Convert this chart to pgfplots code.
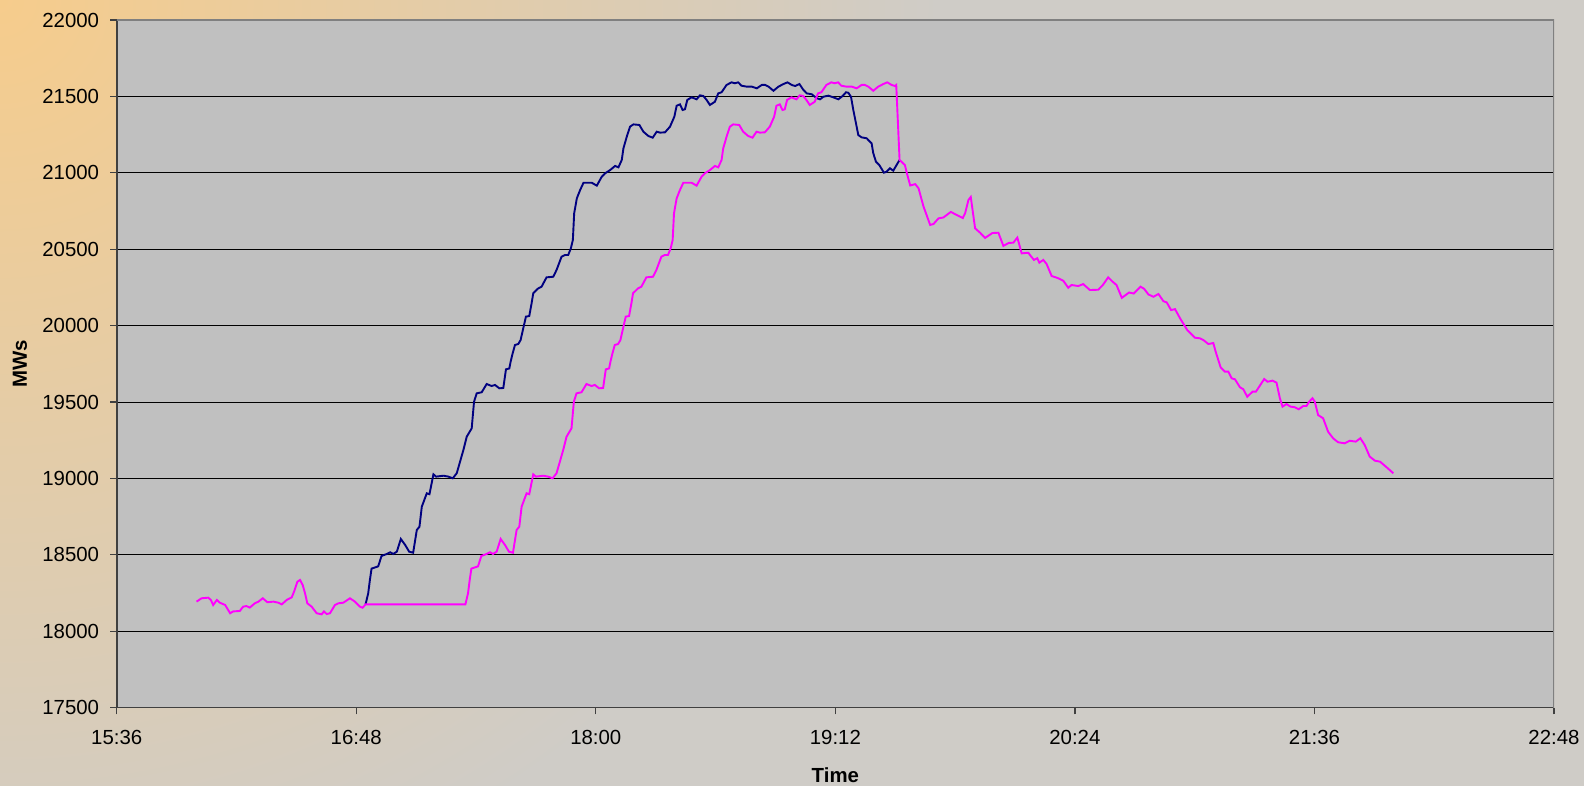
\documentclass[border=0pt]{standalone}
\usepackage{pgfplots}
\pgfplotsset{compat=1.18}
\usepackage{fontspec}
\setmainfont{Liberation Sans}
\definecolor{bgor}{RGB}{246,204,140}
\definecolor{bggr}{RGB}{207,204,199}
\definecolor{plotbg}{RGB}{192,192,192}
\definecolor{navyline}{RGB}{0,0,128}
\definecolor{magline}{RGB}{255,0,255}
\begin{document}
\begin{tikzpicture}[x=1pt,y=1pt]
\begin{scope}
\clip (0,0) rectangle (792,393);
\fill[bggr] (0,0) rectangle (792,393);
\shade[inner color=bgor, outer color=bggr] (0,393) circle (470);
\end{scope}
\begin{axis}[
  at={(58.35pt,39.15pt)}, anchor=south west,
  scale only axis, width=718.65pt, height=343.85pt,
  xmin=936, xmax=1368, ymin=17500, ymax=22000,
  xtick={936,1008,1080,1152,1224,1296,1368},
  xticklabels={15:36,16:48,18:00,19:12,20:24,21:36,22:48},
  ytick={17500,18000,18500,19000,19500,20000,20500,21000,21500,22000},
  yticklabels={17500,18000,18500,19000,19500,20000,20500,21000,21500,22000},
  axis background/.style={fill=plotbg},
  ymajorgrids, grid style={black, line width=0.55pt},
  axis lines*=left,
  axis line style={black!75, line width=0.8pt},
  tick align=outside, major tick length=3.3pt,
  tick style={black!75, line width=0.6pt},
  ticklabel style={font=\fontsize{10.2}{12}\selectfont, inner sep=1pt},
  xticklabel style={yshift=-7pt},
  yticklabel style={xshift=-4.3pt},
  xlabel={\textbf{Time}}, ylabel={\textbf{MWs}},
  label style={font=\fontsize{10.2}{12}\selectfont},
  xlabel style={at={(axis description cs:0.5,-0.0979)}, anchor=center},
  ylabel style={at={(axis description cs:-0.0673,0.5)}, anchor=center},
  clip=true,
]
\draw[gray, line width=0.8pt] (rel axis cs:0,1) -- (rel axis cs:1,1) -- (rel axis cs:1,0);
% Blue (actual)
\addplot[navyline, line width=0.95pt] coordinates {
(1010.8,18176) (1011.6,18249) (1012.1,18336) (1012.6,18410) (1014.6,18425)
(1015.6,18493) (1017.2,18506) (1018.2,18517) (1019.1,18506) (1020.2,18521)
(1021.4,18604) (1022.7,18565) (1023.9,18521) (1025.1,18514) (1026.2,18663)
(1027,18684) (1027.7,18815) (1029.2,18903) (1030,18897) (1031.2,19027)
(1032,19012) (1034.2,19018) (1035.7,19012) (1037,19001) (1038.2,19034)
(1039.2,19110) (1040.2,19186) (1041.2,19273) (1042.7,19328) (1043.4,19502)
(1044.2,19557) (1045.7,19564) (1047.2,19618) (1048.7,19605) (1049.7,19612)
(1051,19590) (1052.2,19592) (1053,19714) (1054,19720) (1054.4,19764)
(1055,19818) (1055.7,19873) (1056.7,19880) (1057.4,19906) (1058.2,19983)
(1059,20059) (1060,20063) (1060.7,20146) (1061.2,20212) (1062.7,20244)
(1063.7,20255) (1065.2,20316) (1067.2,20320) (1068.2,20364) (1069.7,20451)
(1070.7,20462) (1071.7,20462) (1072.5,20506) (1073.1,20560) (1073.5,20735)
(1074.3,20833) (1075.3,20888) (1076.3,20935) (1078.8,20935) (1080.3,20916)
(1081.8,20975) (1082.8,20997) (1084.3,21018) (1085.8,21045) (1086.8,21036)
(1087.8,21084) (1088.3,21160) (1089.3,21236) (1090.3,21302) (1091.3,21317)
(1093.1,21313) (1094.3,21269) (1095.8,21241) (1097.1,21230) (1098.3,21269)
(1099.3,21263) (1100.8,21265) (1102.3,21302) (1103.6,21367) (1104.3,21439)
(1105.3,21448) (1106.1,21411) (1106.8,21416) (1107.5,21477) (1108.8,21494)
(1110.3,21481) (1111.3,21507) (1112.3,21503) (1113.3,21477) (1114.3,21444)
(1115.8,21465) (1116.8,21520) (1117.8,21527) (1119.3,21575) (1120.8,21592)
(1121.8,21586) (1122.8,21592) (1123.8,21570) (1125.3,21564) (1126.9,21564)
(1128.4,21553) (1129.9,21575) (1130.9,21575) (1131.9,21564) (1133.4,21537)
(1134.9,21564) (1136.4,21581) (1137.6,21592) (1138.9,21575) (1139.9,21568)
(1141.2,21581) (1142.4,21542) (1143.4,21520) (1144.9,21514) (1146.4,21488)
(1147.4,21481) (1148.4,21498) (1149.9,21505) (1151.4,21494) (1152.9,21481)
(1154.2,21503) (1155.2,21527) (1155.9,21524) (1156.7,21498) (1157.4,21411)
(1158.2,21324) (1158.9,21247) (1159.9,21232) (1161.4,21226) (1162.9,21193)
(1163.4,21128) (1164.2,21073) (1165.2,21051) (1166.6,21001) (1167.4,21007)
(1168.4,21030) (1169.4,21014) (1170.4,21051) (1171.3,21084)
};
% Magenta
\addplot[magline, line width=0.95pt] coordinates {
(960,18194) (961.5,18216) (963.5,18220) (964.3,18205) (965,18172)
(966.1,18205) (967,18187) (968.6,18172) (970.1,18118) (971,18130)
(973,18133) (974,18161) (975,18165) (976,18155) (977.5,18183)
(978.6,18194) (979.9,18216) (981.3,18190) (983.1,18194) (984.6,18187)
(985.6,18176) (987.1,18205) (988.6,18222) (989.3,18259) (990.3,18324)
(991.1,18336) (991.9,18303) (992.6,18249) (993.3,18183) (994.6,18161)
(996.1,18118) (997.6,18111) (998.3,18130) (999.1,18113) (1000.1,18118)
(1001.6,18172) (1002.6,18183) (1004.1,18187) (1006.1,18216) (1007.6,18194)
(1009.1,18161) (1009.9,18154) (1010.8,18176) (1040.8,18176)
(1041.6,18249) (1042.1,18336) (1042.6,18410) (1044.6,18425)
(1045.6,18493) (1047.2,18506) (1048.2,18517) (1049.1,18506) (1050.2,18521)
(1051.4,18604) (1052.7,18565) (1053.9,18521) (1055.1,18514) (1056.2,18663)
(1057,18684) (1057.7,18815) (1059.2,18903) (1060,18897) (1061.2,19027)
(1062,19012) (1064.2,19018) (1065.7,19012) (1067,19001) (1068.2,19034)
(1069.2,19110) (1070.2,19186) (1071.2,19273) (1072.7,19328) (1073.4,19502)
(1074.2,19557) (1075.7,19564) (1077.2,19618) (1078.7,19605) (1079.7,19612)
(1081,19590) (1082.2,19592) (1083,19714) (1084,19720) (1084.4,19764)
(1085,19818) (1085.7,19873) (1086.7,19880) (1087.4,19906) (1088.2,19983)
(1089,20059) (1090,20063) (1090.7,20146) (1091.2,20212) (1092.7,20244)
(1093.7,20255) (1095.2,20316) (1097.2,20320) (1098.2,20364) (1099.7,20451)
(1100.7,20462) (1101.7,20462) (1102.5,20506) (1103.1,20560) (1103.5,20735)
(1104.3,20833) (1105.3,20888) (1106.3,20935) (1108.8,20935) (1110.3,20916)
(1111.8,20975) (1112.8,20997) (1114.3,21018) (1115.8,21045) (1116.8,21036)
(1117.8,21084) (1118.3,21160) (1119.3,21236) (1120.3,21302) (1121.3,21317)
(1123.1,21313) (1124.3,21269) (1125.8,21241) (1127.1,21230) (1128.3,21269)
(1129.3,21263) (1130.8,21265) (1132.3,21302) (1133.6,21367) (1134.3,21439)
(1135.3,21448) (1136.1,21411) (1136.8,21416) (1137.5,21477) (1138.8,21494)
(1140.3,21481) (1141.3,21507) (1142.3,21503) (1143.3,21477) (1144.3,21444)
(1145.8,21465) (1146.8,21520) (1147.8,21527) (1149.3,21575) (1150.8,21592)
(1151.8,21586) (1152.8,21592) (1153.8,21570) (1155.3,21564) (1156.9,21564)
(1158.4,21553) (1159.9,21575) (1160.9,21575) (1161.9,21564) (1163.4,21537)
(1164.9,21564) (1166.4,21581) (1167.6,21592) (1168.9,21575) (1169.9,21568)
(1170.3,21575) (1171.3,21084)
(1172.9,21051) (1173.5,20997) (1174.5,20917) (1176,20926) (1177,20899)
(1178.5,20779) (1180.5,20659) (1181.5,20665) (1183,20702) (1184.5,20708)
(1186.7,20744) (1188.5,20724) (1190.3,20704) (1191,20735) (1192,20822)
(1192.7,20842) (1194,20637) (1195.5,20608) (1197,20574) (1199.2,20606)
(1201,20608) (1202.5,20522) (1204.1,20541) (1205.5,20543) (1206.7,20576)
(1208,20473) (1210,20477) (1210.7,20456) (1211.7,20430) (1212.7,20441)
(1213.3,20412) (1214.5,20430) (1215.5,20403) (1217,20325) (1219,20310)
(1220.5,20294) (1222,20248) (1223,20266) (1225,20259) (1226.5,20272)
(1228.5,20233) (1231,20235) (1232.4,20266) (1234,20316) (1235.3,20288)
(1236.5,20266) (1238.1,20182) (1240.3,20217) (1241.7,20210) (1243.7,20255)
(1244.8,20241) (1246.1,20204) (1247.6,20189) (1249.1,20207) (1250.6,20160)
(1251.6,20152) (1252.9,20102) (1254.1,20108) (1255.6,20048) (1257.8,19970)
(1260.1,19921) (1261.6,19917) (1262.6,19906) (1264.1,19880) (1265.6,19886)
(1266.3,19830) (1267.8,19727) (1269.1,19699) (1270.1,19699) (1271.1,19655)
(1272.1,19649) (1273.6,19597) (1274.6,19584) (1275.8,19535) (1277.4,19568)
(1278.4,19568) (1279.4,19601) (1280.9,19651) (1281.9,19633) (1283.4,19640)
(1284.6,19627) (1285.6,19525) (1286.4,19470) (1287.6,19487) (1288.8,19470)
(1290.1,19466) (1291.3,19453) (1292.6,19474) (1293.6,19474) (1294.4,19502)
(1295.4,19525) (1296.1,19502) (1297.1,19415) (1298.6,19394) (1300.1,19306)
(1301.6,19263) (1303.1,19237) (1305.1,19230) (1306.6,19247) (1308.4,19241)
(1309.8,19263) (1311.1,19219) (1312.6,19143) (1314.2,19116) (1315.7,19110)
(1317.7,19073) (1319.7,19034)
};
\end{axis}
\pgfresetboundingbox
\path[use as bounding box] (0,0) rectangle (792,393);
\end{tikzpicture}
\end{document}
